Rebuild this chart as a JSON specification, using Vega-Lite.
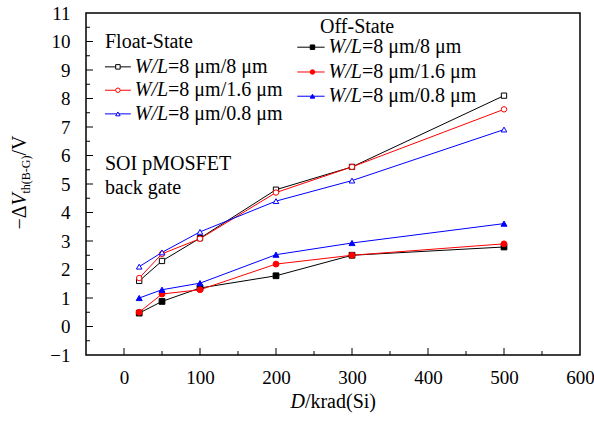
{
  "$schema": "https://vega.github.io/schema/vega-lite/v6.json",
  "width": 494,
  "height": 342,
  "autosize": "none",
  "padding": {"left": 86, "top": 13, "right": 14, "bottom": 68},
  "background": "white",
  "config": {
    "view": {"stroke": "black", "strokeWidth": 1.5},
    "font": "Liberation Serif",
    "axis": {"labelOverlap": false, "labelFlush": false, "labelBound": false},
    "text": {"font": "Liberation Serif", "fontSize": 20, "color": "black", "baseline": "middle"}
  },
  "datasets": {
    "pts": [
      {"state": "Float", "wl": "8/8", "series": "Float 8/8", "dose": 20, "dv": 1.6},
      {"state": "Float", "wl": "8/8", "series": "Float 8/8", "dose": 50, "dv": 2.3},
      {"state": "Float", "wl": "8/8", "series": "Float 8/8", "dose": 100, "dv": 3.1},
      {"state": "Float", "wl": "8/8", "series": "Float 8/8", "dose": 200, "dv": 4.8},
      {"state": "Float", "wl": "8/8", "series": "Float 8/8", "dose": 300, "dv": 5.6},
      {"state": "Float", "wl": "8/8", "series": "Float 8/8", "dose": 500, "dv": 8.1},
      {"state": "Float", "wl": "8/1.6", "series": "Float 8/1.6", "dose": 20, "dv": 1.7},
      {"state": "Float", "wl": "8/1.6", "series": "Float 8/1.6", "dose": 50, "dv": 2.55},
      {"state": "Float", "wl": "8/1.6", "series": "Float 8/1.6", "dose": 100, "dv": 3.08},
      {"state": "Float", "wl": "8/1.6", "series": "Float 8/1.6", "dose": 200, "dv": 4.7},
      {"state": "Float", "wl": "8/1.6", "series": "Float 8/1.6", "dose": 300, "dv": 5.6},
      {"state": "Float", "wl": "8/1.6", "series": "Float 8/1.6", "dose": 500, "dv": 7.62},
      {"state": "Float", "wl": "8/0.8", "series": "Float 8/0.8", "dose": 20, "dv": 2.1},
      {"state": "Float", "wl": "8/0.8", "series": "Float 8/0.8", "dose": 50, "dv": 2.6},
      {"state": "Float", "wl": "8/0.8", "series": "Float 8/0.8", "dose": 100, "dv": 3.32},
      {"state": "Float", "wl": "8/0.8", "series": "Float 8/0.8", "dose": 200, "dv": 4.4},
      {"state": "Float", "wl": "8/0.8", "series": "Float 8/0.8", "dose": 300, "dv": 5.12},
      {"state": "Float", "wl": "8/0.8", "series": "Float 8/0.8", "dose": 500, "dv": 6.91},
      {"state": "Off", "wl": "8/8", "series": "Off 8/8", "dose": 20, "dv": 0.47},
      {"state": "Off", "wl": "8/8", "series": "Off 8/8", "dose": 50, "dv": 0.88},
      {"state": "Off", "wl": "8/8", "series": "Off 8/8", "dose": 100, "dv": 1.35},
      {"state": "Off", "wl": "8/8", "series": "Off 8/8", "dose": 200, "dv": 1.78},
      {"state": "Off", "wl": "8/8", "series": "Off 8/8", "dose": 300, "dv": 2.5},
      {"state": "Off", "wl": "8/8", "series": "Off 8/8", "dose": 500, "dv": 2.79},
      {"state": "Off", "wl": "8/1.6", "series": "Off 8/1.6", "dose": 20, "dv": 0.5},
      {"state": "Off", "wl": "8/1.6", "series": "Off 8/1.6", "dose": 50, "dv": 1.14},
      {"state": "Off", "wl": "8/1.6", "series": "Off 8/1.6", "dose": 100, "dv": 1.29},
      {"state": "Off", "wl": "8/1.6", "series": "Off 8/1.6", "dose": 200, "dv": 2.19},
      {"state": "Off", "wl": "8/1.6", "series": "Off 8/1.6", "dose": 300, "dv": 2.5},
      {"state": "Off", "wl": "8/1.6", "series": "Off 8/1.6", "dose": 500, "dv": 2.9},
      {"state": "Off", "wl": "8/0.8", "series": "Off 8/0.8", "dose": 20, "dv": 1.0},
      {"state": "Off", "wl": "8/0.8", "series": "Off 8/0.8", "dose": 50, "dv": 1.29},
      {"state": "Off", "wl": "8/0.8", "series": "Off 8/0.8", "dose": 100, "dv": 1.52},
      {"state": "Off", "wl": "8/0.8", "series": "Off 8/0.8", "dose": 200, "dv": 2.52},
      {"state": "Off", "wl": "8/0.8", "series": "Off 8/0.8", "dose": 300, "dv": 2.93},
      {"state": "Off", "wl": "8/0.8", "series": "Off 8/0.8", "dose": 500, "dv": 3.61}
    ],
    "leg": [
      {"state": "Float", "wl": "8/8", "series": "Float 8/8", "lx1": -25, "lx2": 9, "mx": -8, "tx": 58, "ly": 9.11, "label": "=8 μm/8 μm"},
      {"state": "Float", "wl": "8/1.6", "series": "Float 8/1.6", "lx1": -25, "lx2": 9, "mx": -8, "tx": 58, "ly": 8.29, "label": "=8 μm/1.6 μm"},
      {"state": "Float", "wl": "8/0.8", "series": "Float 8/0.8", "lx1": -25, "lx2": 9, "mx": -8, "tx": 58, "ly": 7.46, "label": "=8 μm/0.8 μm"},
      {"state": "Off", "wl": "8/8", "series": "Off 8/8", "lx1": 228, "lx2": 264, "mx": 248, "tx": 313, "ly": 9.8, "label": "=8 μm/8 μm"},
      {"state": "Off", "wl": "8/1.6", "series": "Off 8/1.6", "lx1": 228, "lx2": 264, "mx": 248, "tx": 313, "ly": 8.93, "label": "=8 μm/1.6 μm"},
      {"state": "Off", "wl": "8/0.8", "series": "Off 8/0.8", "lx1": 228, "lx2": 264, "mx": 248, "tx": 313, "ly": 8.08, "label": "=8 μm/0.8 μm"}
    ],
    "xt": [
      {"v": 0, "k": "major"}, {"v": 50, "k": "minor"}, {"v": 100, "k": "major"}, {"v": 150, "k": "minor"},
      {"v": 200, "k": "major"}, {"v": 250, "k": "minor"}, {"v": 300, "k": "major"}, {"v": 350, "k": "minor"},
      {"v": 400, "k": "major"}, {"v": 450, "k": "minor"}, {"v": 500, "k": "major"}, {"v": 550, "k": "minor"}
    ],
    "yt": [
      {"v": -0.5, "k": "minor"}, {"v": 0, "k": "major"}, {"v": 0.5, "k": "minor"}, {"v": 1, "k": "major"},
      {"v": 1.5, "k": "minor"}, {"v": 2, "k": "major"}, {"v": 2.5, "k": "minor"}, {"v": 3, "k": "major"},
      {"v": 3.5, "k": "minor"}, {"v": 4, "k": "major"}, {"v": 4.5, "k": "minor"}, {"v": 5, "k": "major"},
      {"v": 5.5, "k": "minor"}, {"v": 6, "k": "major"}, {"v": 6.5, "k": "minor"}, {"v": 7, "k": "major"},
      {"v": 7.5, "k": "minor"}, {"v": 8, "k": "major"}, {"v": 8.5, "k": "minor"}, {"v": 9, "k": "major"},
      {"v": 9.5, "k": "minor"}, {"v": 10, "k": "major"}, {"v": 10.5, "k": "minor"}
    ],
    "one": [{}]
  },
  "layer": [
    {
      "data": {"name": "pts"},
      "mark": {"type": "line", "strokeWidth": 1},
      "encoding": {
        "x": {
          "field": "dose", "type": "quantitative",
          "scale": {"domain": [-50, 600], "nice": false, "zero": false},
          "axis": {
            "title": null, "domain": false, "grid": false, "tickCount": 40, "format": "d",
            "values": [0, 100, 200, 300, 400, 500, 600],
            "ticks": false,
            "labelFont": "Liberation Serif", "labelFontSize": 19, "labelColor": "black",
            "labelPadding": 13, "labelFlush": false, "labelOverlap": false
          }
        },
        "y": {
          "field": "dv", "type": "quantitative",
          "scale": {"domain": [-1, 11], "nice": false, "zero": false},
          "axis": {
            "title": null, "domain": false, "grid": false, "tickCount": 40, "format": "d",
            "values": [-1, 0, 1, 2, 3, 4, 5, 6, 7, 8, 9, 10, 11],
            "ticks": false,
            "labelFont": "Liberation Serif", "labelFontSize": 19, "labelColor": "black",
            "labelPadding": 16, "labelFlush": false, "labelOverlap": false
          }
        },
        "stroke": {
          "field": "wl", "type": "nominal",
          "scale": {"domain": ["8/8", "8/1.6", "8/0.8"], "range": ["#000000", "#ff0000", "#0000ff"]},
          "legend": null
        },
        "detail": {"field": "state"}
      }
    },
    {
      "data": {"name": "xt"},
      "transform": [{"filter": "datum.k === 'major'"}],
      "mark": {"type": "rule", "strokeWidth": 1, "color": "black"},
      "encoding": {
        "x": {"field": "v", "type": "quantitative"},
        "y": {"datum": -1},
        "y2": {"datum": -0.755}
      }
    },
    {
      "data": {"name": "xt"},
      "transform": [{"filter": "datum.k === 'minor'"}],
      "mark": {"type": "rule", "strokeWidth": 1, "color": "black"},
      "encoding": {
        "x": {"field": "v", "type": "quantitative"},
        "y": {"datum": -1},
        "y2": {"datum": -0.86}
      }
    },
    {
      "data": {"name": "yt"},
      "transform": [{"filter": "datum.k === 'major'"}],
      "mark": {"type": "rule", "strokeWidth": 1, "color": "black"},
      "encoding": {
        "y": {"field": "v", "type": "quantitative"},
        "x": {"datum": -50},
        "x2": {"datum": -40.8}
      }
    },
    {
      "data": {"name": "yt"},
      "transform": [{"filter": "datum.k === 'minor'"}],
      "mark": {"type": "rule", "strokeWidth": 1, "color": "black"},
      "encoding": {
        "y": {"field": "v", "type": "quantitative"},
        "x": {"datum": -50},
        "x2": {"datum": -44.7}
      }
    },
    {
      "data": {"name": "pts"},
      "mark": {"type": "point", "filled": true, "strokeWidth": 1, "opacity": 1, "fillOpacity": 1},
      "encoding": {
        "x": {"field": "dose", "type": "quantitative"},
        "y": {"field": "dv", "type": "quantitative"},
        "shape": {
          "field": "wl", "type": "nominal",
          "scale": {"domain": ["8/8", "8/1.6", "8/0.8"], "range": ["square", "circle", "triangle-up"]},
          "legend": null
        },
        "stroke": {"field": "wl", "type": "nominal", "legend": null},
        "fill": {
          "field": "series", "type": "nominal",
          "scale": {
            "domain": ["Float 8/8", "Float 8/1.6", "Float 8/0.8", "Off 8/8", "Off 8/1.6", "Off 8/0.8"],
            "range": ["#ffffff", "#ffffff", "#ffffff", "#000000", "#ff0000", "#0000ff"]
          },
          "legend": null
        },
        "size": {
          "field": "series", "type": "nominal",
          "scale": {
            "domain": ["Float 8/8", "Float 8/1.6", "Float 8/0.8", "Off 8/8", "Off 8/1.6", "Off 8/0.8"],
            "range": [28, 36, 60, 40, 50, 75]
          },
          "legend": null
        }
      }
    },
    {
      "data": {"name": "leg"},
      "mark": {"type": "rule", "strokeWidth": 1},
      "encoding": {
        "x": {"field": "lx1", "type": "quantitative"},
        "x2": {"field": "lx2"},
        "y": {"field": "ly", "type": "quantitative"},
        "stroke": {"field": "wl", "type": "nominal", "legend": null}
      }
    },
    {
      "data": {"name": "leg"},
      "mark": {"type": "point", "filled": true, "strokeWidth": 1, "opacity": 1, "size": 20},
      "encoding": {
        "x": {"field": "mx", "type": "quantitative"},
        "y": {"field": "ly", "type": "quantitative"},
        "shape": {"field": "wl", "type": "nominal", "legend": null},
        "stroke": {"field": "wl", "type": "nominal", "legend": null},
        "fill": {"field": "series", "type": "nominal", "legend": null}
      }
    },
    {
      "data": {"name": "leg"},
      "mark": {"type": "text", "align": "right", "fontStyle": "italic"},
      "encoding": {
        "x": {"field": "tx", "type": "quantitative"},
        "y": {"field": "ly", "type": "quantitative"},
        "text": {"value": "W/L"}
      }
    },
    {
      "data": {"name": "leg"},
      "mark": {"type": "text", "align": "left"},
      "encoding": {
        "x": {"field": "tx", "type": "quantitative"},
        "y": {"field": "ly", "type": "quantitative"},
        "text": {"field": "label"}
      }
    },
    {
      "data": {"name": "one"},
      "mark": {"type": "text", "align": "left"},
      "encoding": {"x": {"datum": -25}, "y": {"datum": 10.0}, "text": {"value": "Float-State"}}
    },
    {
      "data": {"name": "one"},
      "mark": {"type": "text", "align": "left"},
      "encoding": {"x": {"datum": 258}, "y": {"datum": 10.5}, "text": {"value": "Off-State"}}
    },
    {
      "data": {"name": "one"},
      "mark": {"type": "text", "align": "left"},
      "encoding": {"x": {"datum": -25}, "y": {"datum": 5.7}, "text": {"value": "SOI pMOSFET"}}
    },
    {
      "data": {"name": "one"},
      "mark": {"type": "text", "align": "left"},
      "encoding": {"x": {"datum": -25}, "y": {"datum": 4.87}, "text": {"value": "back gate"}}
    },
    {
      "data": {"name": "one"},
      "mark": {"type": "text", "align": "right", "fontStyle": "italic"},
      "encoding": {"x": {"datum": 238}, "y": {"datum": -2.65}, "text": {"value": "D"}}
    },
    {
      "data": {"name": "one"},
      "mark": {"type": "text", "align": "left"},
      "encoding": {"x": {"datum": 238}, "y": {"datum": -2.65}, "text": {"value": "/krad(Si)"}}
    },
    {
      "data": {"name": "one"},
      "mark": {"type": "text", "align": "left", "angle": 270},
      "encoding": {"x": {"datum": -137}, "y": {"datum": 3.4}, "text": {"value": "−Δ"}}
    },
    {
      "data": {"name": "one"},
      "mark": {"type": "text", "align": "left", "angle": 270, "fontStyle": "italic", "dx": 24},
      "encoding": {"x": {"datum": -137}, "y": {"datum": 3.4}, "text": {"value": "V"}}
    },
    {
      "data": {"name": "one"},
      "mark": {"type": "text", "align": "left", "angle": 270, "fontSize": 12, "dx": 36, "dy": 6},
      "encoding": {"x": {"datum": -137}, "y": {"datum": 3.4}, "text": {"value": "th(B-G)"}}
    },
    {
      "data": {"name": "one"},
      "mark": {"type": "text", "align": "left", "angle": 270, "dx": 74},
      "encoding": {"x": {"datum": -137}, "y": {"datum": 3.4}, "text": {"value": "/V"}}
    }
  ]
}
